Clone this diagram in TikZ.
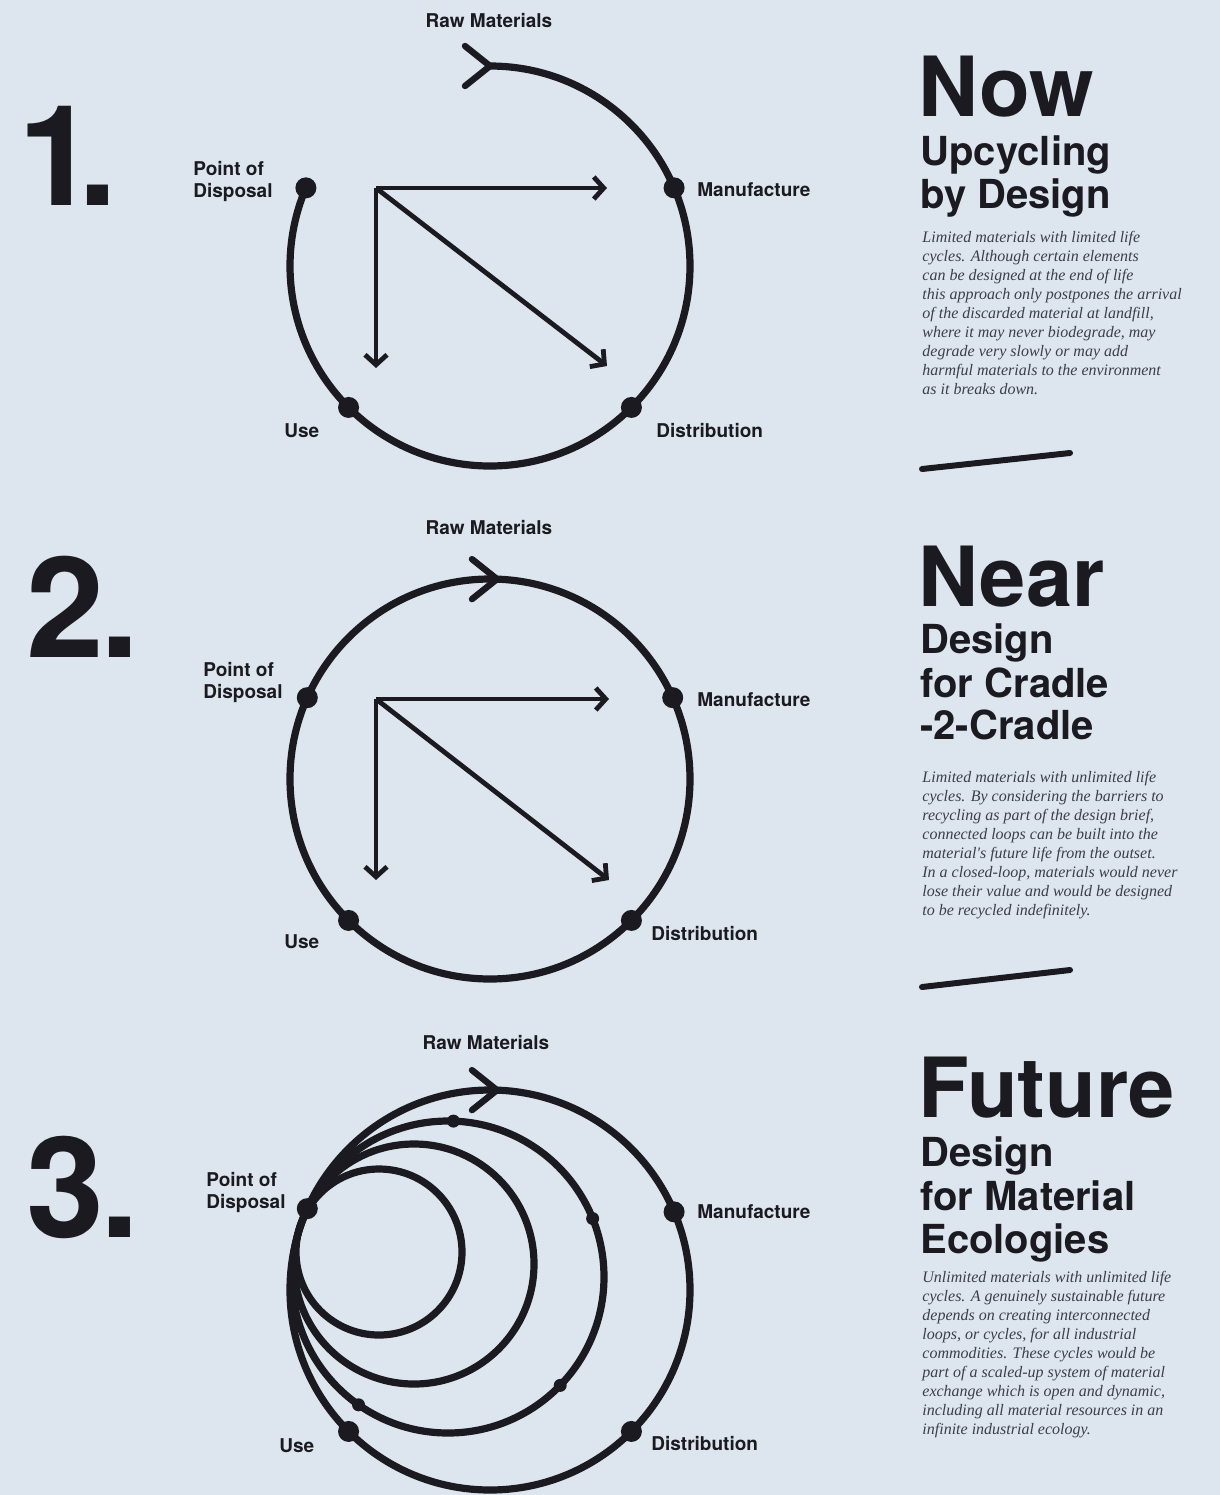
\documentclass[tikz,border=0pt]{standalone}
\usepackage{fontspec}
\setmainfont{TeX Gyre Heros}
\newfontfamily\bodyfont{Liberation Serif}
\usetikzlibrary{arrows.meta}
\definecolor{bg}{RGB}{221,230,239}
\definecolor{ink}{RGB}{26,26,32}
\definecolor{gtext}{RGB}{58,63,72}
\begin{document}
\begin{tikzpicture}[x=0.5pt,y=-0.5pt,
 ring/.style={draw=ink, line width=3.6pt, line cap=round, line join=round},
 chev/.style={draw=ink, line width=3.2pt, line cap=round, line join=miter},
 inarr/.style={draw=ink, line width=2.4pt, -{Straight Barb[length=5pt,width=11pt]}},
 dot/.style={circle, fill=ink, inner sep=0pt, minimum size=10.5pt},
 sdot/.style={circle, fill=ink, inner sep=0pt, minimum size=6.5pt},
 lab/.style={inner sep=0pt, text=ink, font=\fontsize{9.5}{11}\selectfont\bfseries},
 num/.style={inner sep=0pt, text=ink, font=\fontsize{70}{70}\selectfont\bfseries},
 head/.style={inner sep=0pt, text depth=0pt, text=ink, font=\fontsize{41.5}{40}\selectfont\bfseries},
 sub/.style={inner sep=0pt, text height=14.5pt, text=ink, font=\fontsize{20}{22}\selectfont\bfseries},
 body/.style={inner sep=0pt, text=gtext, align=left, font=\bodyfont\itshape\fontsize{8}{9.5}\selectfont},
 rule/.style={draw=ink, line width=3pt, line cap=round}]
\fill[bg] (0,0) rectangle (1220,1495);
\useasboundingbox (0,0) rectangle (1220,1495);

% ---------- numbers ----------
\node[num, anchor=base west] (n1) at (18,205) {1\kern-9pt.};
\node[num, anchor=base west] (n2) at (26,657) {2\kern-2pt.};
\node[num, anchor=base west] (n3) at (26,1237) {3\kern-2pt.};

% ---------- diagram 1 ----------
\coordinate (c1) at (490,266);
\draw[ring] (c1) ++(-90:200) arc[start angle=-90, end angle=203, radius=200];
\coordinate (t1) at ([shift={(-90:200)}]c1);
\draw[chev] ([shift={(-25,-20)}]t1) -- (t1) -- ([shift={(-25,20)}]t1);
\node[dot] (pd1d) at ([shift={(203:200)}]c1) {};
\node[dot] (mf1d) at ([shift={(-23:200)}]c1) {};
\node[dot] (us1d) at ([shift={(135:200)}]c1) {};
\node[dot] (ds1d) at ([shift={(45:200)}]c1) {};
\coordinate (o1) at (376,188);
\coordinate (h1t) at (607,188);
\coordinate (v1t) at (376,368);
\coordinate (d1t) at (607,366);
\draw[inarr] (o1) -- (h1t);
\draw[inarr] (o1) -- (v1t);
\draw[inarr] (o1) -- (d1t);
\node[lab, anchor=base] (rm1) at (489,27) {Raw Materials};
\node[lab, anchor=north west, align=left] (pd1) at (193,161) {Point of\\Disposal};
\node[lab, anchor=base west] (mf1) at (697,196) {Manufacture};
\node[lab, anchor=base west] (us1) at (284,437) {Use};
\node[lab, anchor=base west] (ds1) at (656,437) {Distribution};

% ---------- diagram 2 ----------
\coordinate (c2) at (490,779);
\draw[ring] (c2) circle[radius=200];
\coordinate (t2) at ([shift={(-88:200)}]c2);
\draw[chev] ([shift={(-25,-20)}]t2) -- (t2) -- ([shift={(-25,20)}]t2);
\node[dot] (pd2d) at ([shift={(204:200)}]c2) {};
\node[dot] (mf2d) at ([shift={(-24:200)}]c2) {};
\node[dot] (us2d) at ([shift={(135:200)}]c2) {};
\node[dot] (ds2d) at ([shift={(45:200)}]c2) {};
\coordinate (o2) at (376,699);
\coordinate (h2t) at (609,699);
\coordinate (v2t) at (376,880);
\coordinate (d2t) at (609,880);
\draw[inarr] (o2) -- (h2t);
\draw[inarr] (o2) -- (v2t);
\draw[inarr] (o2) -- (d2t);
\node[lab, anchor=base] (rm2) at (489,534) {Raw Materials};
\node[lab, anchor=north west, align=left] (pd2) at (203,662) {Point of\\Disposal};
\node[lab, anchor=base west] (mf2) at (697,706) {Manufacture};
\node[lab, anchor=base west] (us2) at (284,948) {Use};
\node[lab, anchor=base west] (ds2) at (651,940) {Distribution};

% ---------- diagram 3 ----------
\coordinate (c3) at (490,1290);
\coordinate (c3a) at (379,1252);
\coordinate (c3b) at (414,1264);
\coordinate (c3c) at (448,1277);
\draw[ring] (c3) circle[radius=200];
\draw[ring] (c3a) circle[radius=83];
\draw[ring] (c3b) circle[radius=120];
\draw[ring] (c3c) circle[radius=156];
\coordinate (t3) at ([shift={(-88:200)}]c3);
\draw[chev] ([shift={(-25,-20)}]t3) -- (t3) -- ([shift={(-25,20)}]t3);
\node[dot] (pd3d) at ([shift={(204:200)}]c3) {};
\node[dot] (mf3d) at ([shift={(-23:200)}]c3) {};
\node[dot] (us3d) at ([shift={(135:200)}]c3) {};
\node[dot] (ds3d) at ([shift={(45:200)}]c3) {};
\node[sdot] (s3a) at ([shift={(-88:156)}]c3c) {};
\node[sdot] (s3b) at ([shift={(-22:156)}]c3c) {};
\node[sdot] (s3c) at ([shift={(44:156)}]c3c) {};
\node[sdot] (s3d) at ([shift={(125:156)}]c3c) {};
\node[lab, anchor=base] (rm3) at (486,1049) {Raw Materials};
\node[lab, anchor=north west, align=left] (pd3) at (206,1172) {Point of\\Disposal};
\node[lab, anchor=base west] (mf3) at (697,1218) {Manufacture};
\node[lab, anchor=base west] (us3) at (279,1452) {Use};
\node[lab, anchor=base west] (ds3) at (651,1450) {Distribution};

% ---------- right column ----------
\node[head, anchor=base west] (hd1) at (918,116) {Now};
\node[sub, anchor=base west] (sb1a) at (920,165) {Upcycling};
\node[sub, anchor=base west] (sb1b) at (920,208) {by Design};
\node[body, anchor=north west] (bd1) at (922,231) {Limited materials with limited life\\cycles. Although certain elements\\can be designed at the end of life\\this approach only postpones the arrival\\of the discarded material at landfill,\\where it may never biodegrade, may\\degrade very slowly or may add\\harmful materials to the environment\\as it breaks down.};
\draw[rule] (922,469) -- (1070,453);

\node[head, anchor=base west] (hd2) at (918,606) {Near};
\node[sub, anchor=base west] (sb2a) at (920,653) {Design};
\node[sub, anchor=base west] (sb2b) at (920,697) {for Cradle};
\node[sub, anchor=base west] (sb2c) at (920,739) {-2-Cradle};
\node[body, anchor=north west] (bd2) at (922,771) {Limited materials with unlimited life\\cycles. By considering the barriers to\\recycling as part of the design brief,\\connected loops can be built into the\\material's future life from the outset.\\In a closed-loop, materials would never\\lose their value and would be designed\\to be recycled indefinitely.};
\draw[rule] (922,987) -- (1070,970);

\node[head, anchor=base west] (hd3) at (918,1117) {Future};
\node[sub, anchor=base west] (sb3a) at (920,1166) {Design};
\node[sub, anchor=base west] (sb3b) at (920,1210) {for Material};
\node[sub, anchor=base west] (sb3c) at (920,1253) {Ecologies};
\node[body, anchor=north west] (bd3) at (922,1271) {Unlimited materials with unlimited life\\cycles. A genuinely sustainable future\\depends on creating interconnected\\loops, or cycles, for all industrial\\commodities. These cycles would be\\part of a scaled-up system of material\\exchange which is open and dynamic,\\including all material resources in an\\infinite industrial ecology.};
\end{tikzpicture}
\end{document}
